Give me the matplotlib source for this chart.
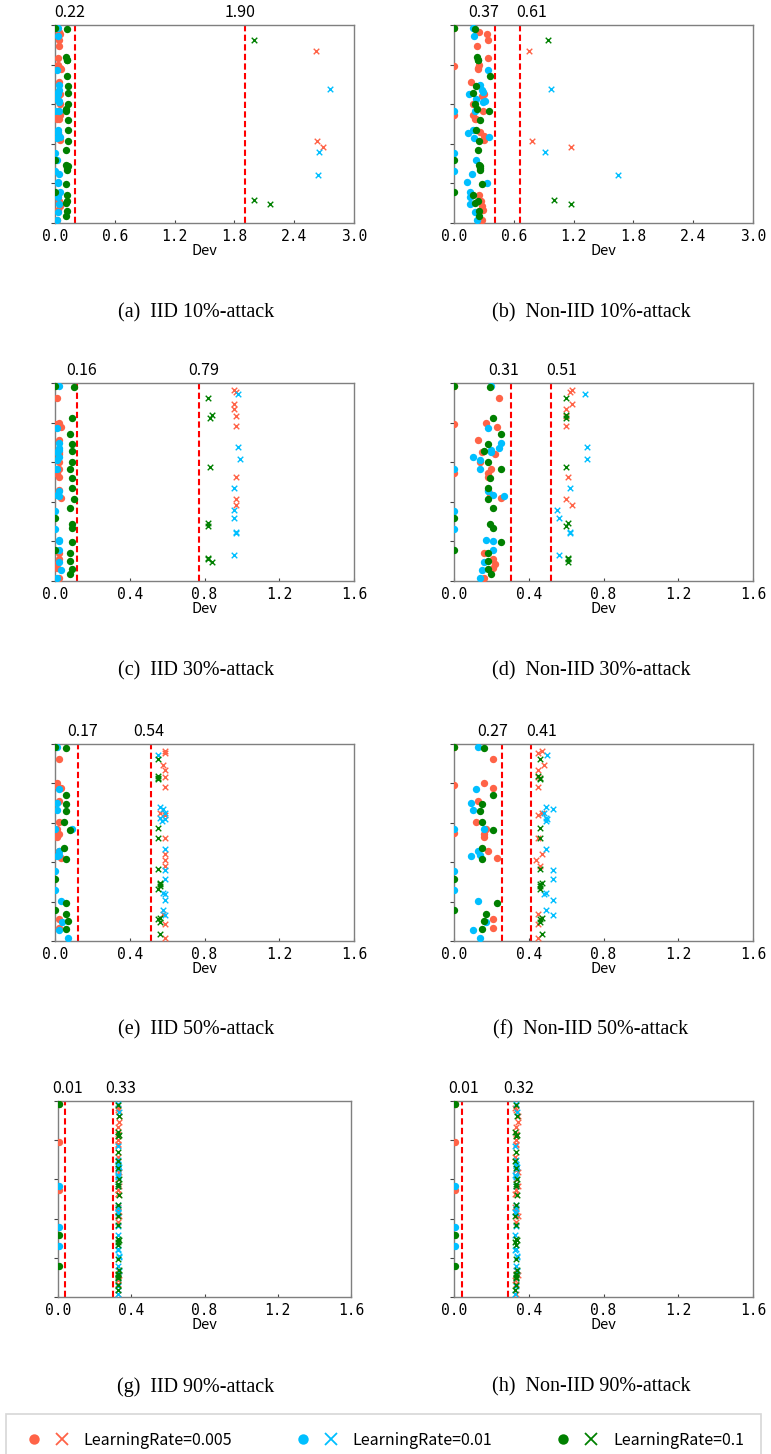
import matplotlib
matplotlib.use("Agg")
import matplotlib.pyplot as plt
from matplotlib.lines import Line2D
from matplotlib.legend_handler import HandlerTuple

plt.rcParams['font.family'] = ['Noto Sans CJK SC', 'DejaVu Sans']

# client positions on the vertical axis (0 = top), one list per learning rate.
# the first n entries are the attackers for an n-attacker setting, the last three never attack
pos_red = [13.1, 58.8, 61.8, 3.4, 4.7, 10.6, 16.7, 21.9, 47.7, 35.0, 36.1, 56.0, 86.1, 91.5, 98.5,
           7.6, 20.0, 22.4, 28.8, 39.8, 43.4, 45.6, 47.3, 54.2, 58.1, 89.0, 93.2, 1.5, 20.8, 45.4]
pos_blue = [32.1, 63.9, 76.0, 5.4, 38.3, 53.1, 68.3, 75.5, 86.8, 33.0, 34.9, 37.5, 39.0, 79.3, 84.1,
            1.4, 22.9, 30.2, 33.6, 43.4, 54.4, 56.4, 57.0, 79.7, 90.3, 94.2, 98.5, 43.2, 64.4, 73.9]
pos_green = [7.6, 88.2, 90.4, 16.0, 17.5, 42.5, 70.5, 72.0, 89.0, 47.8, 63.2, 73.4, 96.4, 17.7, 71.0,
             1.9, 25.9, 30.7, 34.2, 39.7, 43.5, 53.0, 58.5, 80.5, 86.1, 89.8, 94.1, 1.4, 68.3, 84.4]

# Dev per client, per panel
dev_a_red = [2.62, 2.63, 2.69, 0.04, 0.05, 0.04, 0.03, 0.05, 0.02, 0.05, 0.03, 0.04, 0.03, 0.05, 0.02,
             0.04, 0.03, 0.06, 0.04, 0.05, 0.03, 0.05, 0.04, 0.03, 0.05, 0.04, 0.03, 0.0, 0.0, 0.0]
dev_a_blue = [2.76, 2.65, 2.64, 0.03, 0.04, 0.03, 0.02, 0.04, 0.03, 0.04, 0.03, 0.02, 0.04, 0.03, 0.05,
              0.03, 0.02, 0.04, 0.03, 0.04, 0.03, 0.05, 0.02, 0.03, 0.04, 0.03, 0.02, 0.0, 0.0, 0.0]
dev_a_green = [2.00, 2.00, 2.16, 0.11, 0.12, 0.11, 0.11, 0.12, 0.12, 0.13, 0.11, 0.12, 0.11, 0.12, 0.13,
               0.12, 0.12, 0.13, 0.13, 0.13, 0.11, 0.13, 0.13, 0.11, 0.12, 0.11, 0.12, 0.0, 0.0, 0.0]

dev_b_red = [0.75, 0.78, 1.17, 0.25, 0.33, 0.23, 0.34, 0.24, 0.22, 0.30, 0.28, 0.30, 0.25, 0.28, 0.28,
             0.34, 0.25, 0.24, 0.17, 0.19, 0.29, 0.19, 0.21, 0.26, 0.30, 0.27, 0.29, 0.0, 0.0, 0.0]
dev_b_blue = [0.97, 0.91, 1.65, 0.20, 0.31, 0.19, 0.22, 0.18, 0.16, 0.28, 0.15, 0.22, 0.29, 0.13, 0.16,
              0.19, 0.34, 0.26, 0.29, 0.21, 0.14, 0.35, 0.20, 0.33, 0.16, 0.21, 0.23, 0.0, 0.0, 0.0]
dev_b_green = [0.94, 1.00, 1.17, 0.23, 0.24, 0.23, 0.25, 0.26, 0.24, 0.26, 0.24, 0.26, 0.25, 0.24, 0.26,
               0.21, 0.36, 0.22, 0.19, 0.21, 0.35, 0.22, 0.25, 0.28, 0.19, 0.21, 0.25, 0.0, 0.0, 0.0]

dev_c_red = [0.96, 0.97, 0.97, 0.96, 0.97, 0.96, 0.97, 0.97, 0.97, 0.02, 0.02, 0.01, 0.02, 0.01, 0.02,
             0.01, 0.02, 0.03, 0.02, 0.02, 0.02, 0.01, 0.02, 0.02, 0.03, 0.02, 0.01, 0.0, 0.0, 0.0]
dev_c_blue = [0.98, 0.96, 0.97, 0.98, 0.99, 0.96, 0.96, 0.97, 0.96, 0.02, 0.01, 0.02, 0.01, 0.02, 0.02,
              0.02, 0.01, 0.02, 0.02, 0.01, 0.02, 0.01, 0.02, 0.02, 0.02, 0.03, 0.01, 0.0, 0.0, 0.0]
dev_c_green = [0.82, 0.82, 0.84, 0.84, 0.83, 0.83, 0.82, 0.82, 0.82, 0.09, 0.08, 0.09, 0.08, 0.09, 0.09,
               0.10, 0.08, 0.09, 0.09, 0.09, 0.08, 0.09, 0.10, 0.09, 0.08, 0.08, 0.09, 0.0, 0.0, 0.0]

dev_d_red = [0.60, 0.60, 0.63, 0.63, 0.62, 0.63, 0.60, 0.60, 0.61, 0.15, 0.22, 0.19, 0.16, 0.22, 0.16,
             0.24, 0.17, 0.23, 0.13, 0.14, 0.20, 0.18, 0.18, 0.18, 0.25, 0.21, 0.21, 0.0, 0.0, 0.0]
dev_d_blue = [0.71, 0.55, 0.62, 0.70, 0.71, 0.62, 0.56, 0.62, 0.56, 0.24, 0.20, 0.10, 0.14, 0.17, 0.21,
              0.20, 0.18, 0.25, 0.20, 0.14, 0.18, 0.21, 0.27, 0.21, 0.16, 0.15, 0.14, 0.0, 0.0, 0.0]
dev_d_green = [0.60, 0.61, 0.61, 0.60, 0.60, 0.60, 0.61, 0.60, 0.61, 0.19, 0.21, 0.21, 0.20, 0.21, 0.19,
               0.19, 0.25, 0.18, 0.16, 0.18, 0.25, 0.18, 0.18, 0.25, 0.18, 0.18, 0.18, 0.0, 0.0, 0.0]

dev_e_red = [0.59, 0.59, 0.59, 0.59, 0.59, 0.58, 0.59, 0.59, 0.59, 0.56, 0.59, 0.59, 0.58, 0.59, 0.59,
             0.02, 0.01, 0.03, 0.02, 0.02, 0.01, 0.02, 0.01, 0.02, 0.03, 0.02, 0.02, 0.0, 0.0, 0.0]
dev_e_blue = [0.56, 0.59, 0.59, 0.55, 0.59, 0.59, 0.59, 0.58, 0.59, 0.58, 0.59, 0.56, 0.57, 0.59, 0.58,
              0.01, 0.02, 0.01, 0.01, 0.09, 0.02, 0.02, 0.01, 0.03, 0.04, 0.02, 0.07, 0.0, 0.0, 0.0]
dev_e_green = [0.55, 0.56, 0.56, 0.55, 0.55, 0.55, 0.56, 0.56, 0.55, 0.55, 0.55, 0.55, 0.56, 0.55, 0.56,
               0.06, 0.06, 0.06, 0.06, 0.05, 0.08, 0.05, 0.06, 0.06, 0.06, 0.07, 0.06, 0.0, 0.0, 0.0]

dev_f_red = [0.45, 0.44, 0.46, 0.47, 0.45, 0.48, 0.45, 0.45, 0.45, 0.47, 0.45, 0.47, 0.45, 0.45, 0.45,
             0.21, 0.16, 0.21, 0.13, 0.12, 0.17, 0.16, 0.16, 0.18, 0.23, 0.21, 0.21, 0.0, 0.0, 0.0]
dev_f_blue = [0.49, 0.53, 0.48, 0.50, 0.50, 0.49, 0.53, 0.49, 0.53, 0.53, 0.48, 0.49, 0.49, 0.53, 0.49,
              0.13, 0.12, 0.09, 0.10, 0.16, 0.13, 0.14, 0.09, 0.13, 0.17, 0.10, 0.14, 0.0, 0.0, 0.0]
dev_f_green = [0.46, 0.47, 0.46, 0.45, 0.46, 0.46, 0.47, 0.46, 0.46, 0.46, 0.46, 0.46, 0.47, 0.46, 0.46,
               0.16, 0.21, 0.15, 0.14, 0.15, 0.21, 0.15, 0.15, 0.23, 0.17, 0.16, 0.15, 0.0, 0.0, 0.0]

dev_g_red = [0.33, 0.335, 0.33, 0.325, 0.33, 0.335, 0.33, 0.33, 0.325, 0.33, 0.335, 0.33, 0.33, 0.325, 0.33,
             0.335, 0.33, 0.33, 0.325, 0.33, 0.335, 0.33, 0.33, 0.325, 0.33, 0.335, 0.33, 0.005, 0.005, 0.005]
dev_g_blue = [0.33, 0.33, 0.325, 0.335, 0.33, 0.33, 0.325, 0.33, 0.335, 0.33, 0.33, 0.325, 0.33, 0.335, 0.33,
              0.33, 0.325, 0.33, 0.335, 0.33, 0.33, 0.325, 0.33, 0.335, 0.33, 0.33, 0.325, 0.005, 0.005, 0.005]
dev_g_green = [0.335, 0.33, 0.33, 0.325, 0.335, 0.33, 0.33, 0.325, 0.33, 0.335, 0.33, 0.33, 0.325, 0.33, 0.335,
               0.33, 0.33, 0.325, 0.33, 0.335, 0.33, 0.33, 0.325, 0.33, 0.335, 0.33, 0.33, 0.005, 0.005, 0.005]

dev_h_red = [0.33, 0.34, 0.33, 0.325, 0.33, 0.345, 0.33, 0.33, 0.325, 0.33, 0.34, 0.33, 0.33, 0.325, 0.33,
             0.34, 0.33, 0.33, 0.325, 0.33, 0.34, 0.33, 0.33, 0.325, 0.33, 0.34, 0.33, 0.005, 0.005, 0.005]
dev_h_blue = [0.33, 0.33, 0.325, 0.335, 0.33, 0.33, 0.325, 0.33, 0.335, 0.33, 0.33, 0.325, 0.33, 0.335, 0.33,
              0.33, 0.325, 0.33, 0.335, 0.33, 0.33, 0.325, 0.33, 0.335, 0.33, 0.33, 0.325, 0.005, 0.005, 0.005]
dev_h_green = [0.335, 0.33, 0.33, 0.325, 0.335, 0.33, 0.33, 0.325, 0.33, 0.335, 0.33, 0.33, 0.325, 0.33, 0.335,
               0.33, 0.33, 0.325, 0.33, 0.335, 0.33, 0.33, 0.325, 0.33, 0.335, 0.33, 0.33, 0.005, 0.005, 0.005]

n_attackers = [3, 3, 9, 9, 15, 15, 27, 27]
x_max = [3.0, 3.0, 1.6, 1.6, 1.6, 1.6, 1.6, 1.6]
x_step = [0.6, 0.6, 0.4, 0.4, 0.4, 0.4, 0.4, 0.4]

# red dashed thresholds (where they are drawn) and the numbers printed above them
thr_lines = [[0.20, 1.91], [0.41, 0.665], [0.12, 0.77], [0.303, 0.517],
             [0.125, 0.512], [0.258, 0.41], [0.036, 0.30], [0.045, 0.29]]
thr_labels = [["0.22", "1.90"], ["0.37", "0.61"], ["0.16", "0.79"], ["0.31", "0.51"],
              ["0.17", "0.54"], ["0.27", "0.41"], ["0.01", "0.33"], ["0.01", "0.32"]]
captions = ["(a)  IID 10%-attack", "(b)  Non-IID 10%-attack",
            "(c)  IID 30%-attack", "(d)  Non-IID 30%-attack",
            "(e)  IID 50%-attack", "(f)  Non-IID 50%-attack",
            "(g)  IID 90%-attack", "(h)  Non-IID 90%-attack"]
lr_labels = ["LearningRate=0.005", "LearningRate=0.01", "LearningRate=0.1"]

panel_devs = [
    (dev_a_red, dev_a_blue, dev_a_green), (dev_b_red, dev_b_blue, dev_b_green),
    (dev_c_red, dev_c_blue, dev_c_green), (dev_d_red, dev_d_blue, dev_d_green),
    (dev_e_red, dev_e_blue, dev_e_green), (dev_f_red, dev_f_blue, dev_f_green),
    (dev_g_red, dev_g_blue, dev_g_green), (dev_h_red, dev_h_blue, dev_h_green),
]
positions = (pos_red, pos_blue, pos_green)

# ---- layout (pixels) ----
W, H = 771, 1454
label_x = [[0.15, 1.856], [0.297, 0.782], [0.143, 0.796], [0.264, 0.576],
           [0.15, 0.503], [0.209, 0.469], [0.051, 0.345], [0.053, 0.348]]
row_tb = [(25, 223), (383, 581), (744, 941), (1101, 1297)]
col_lr = [[(55, 354), (454, 753)], [(55, 354), (454, 753)],
          [(55, 354), (454, 753)], [(58, 351), (454, 753)]]
caption_y = [313, 671, 1030, 1387]
caption_x = [196, 591]
colors = ['#ff6347', '#00bfff', '#008000']

fig = plt.figure(figsize=(W / 100, H / 100), dpi=100)

for i in range(8):
    row, col = divmod(i, 2)
    top, bottom = row_tb[row]
    left, right = col_lr[row][col]
    ax = fig.add_axes([left / W, 1 - bottom / H, (right - left) / W, (bottom - top) / H])

    k = n_attackers[i]
    for pos, dev, c in zip(positions, panel_devs[i], colors):
        ax.scatter(dev[k:], pos[k:], s=28, color=c, marker='o', linewidths=0, zorder=3)
        ax.scatter(dev[:k], pos[:k], s=16, color=c, marker='x', linewidths=1.0, zorder=3)

    for x, lab, lx in zip(thr_lines[i], thr_labels[i], label_x[i]):
        ax.axvline(x, color='red', ls=(0, (3, 1.6)), lw=1.5, zorder=2)
        ax.annotate(lab, xy=(lx, 1.0), xycoords=('data', 'axes fraction'),
                    xytext=(0, 9), textcoords='offset points',
                    ha='center', va='center', fontsize=11.5)

    ax.set_xlim(0, x_max[i])
    ax.set_ylim(100, 0)
    n_ticks = int(round(x_max[i] / x_step[i])) + 1
    ax.set_xticks([x_step[i] * j for j in range(n_ticks)])
    ax.set_xticklabels(['%.1f' % (x_step[i] * j) for j in range(n_ticks)],
                       family='DejaVu Sans Mono', fontsize=10.5)
    ax.set_yticks([0, 20, 40, 60, 80, 100])
    ax.set_yticklabels([])
    ax.tick_params(axis='y', length=3, width=0.8, colors='#444444')
    ax.tick_params(axis='x', direction='in', length=2, width=0.8, pad=4.5,
                   colors='#444444', labelcolor='black')
    for sp in ax.spines.values():
        sp.set_color('#7f7f7f')
        sp.set_linewidth(1.0)

    ax.set_xlabel('Dev', fontsize=10.5)
    ax.xaxis.set_label_coords(0.5, -0.105)

    fig.text(caption_x[col] / W, 1 - caption_y[row] / H, captions[i],
             family='Liberation Serif', fontsize=14.5, ha='center', va='center')

handles = []
for c in colors:
    dot = Line2D([], [], ls='none', marker='o', markersize=7.5, color=c, markeredgewidth=0)
    cross = Line2D([], [], ls='none', marker='x', markersize=9, color=c, markeredgewidth=1.3)
    handles.append((dot, cross))

leg = fig.legend(handles, lr_labels, loc='upper left',
                 bbox_to_anchor=(6 / W, 1 - 1414 / H), borderaxespad=0,
                 ncol=3, fontsize=11.5, frameon=True, fancybox=False,
                 handler_map={tuple: HandlerTuple(ndivide=None, pad=0.5)},
                 handlelength=3.0, handletextpad=0.75, columnspacing=3.8,
                 borderpad=1.1)
leg.get_frame().set_edgecolor('#cccccc')
leg.get_frame().set_linewidth(1.2)

fig.savefig('out.png', dpi=100, facecolor='white')
